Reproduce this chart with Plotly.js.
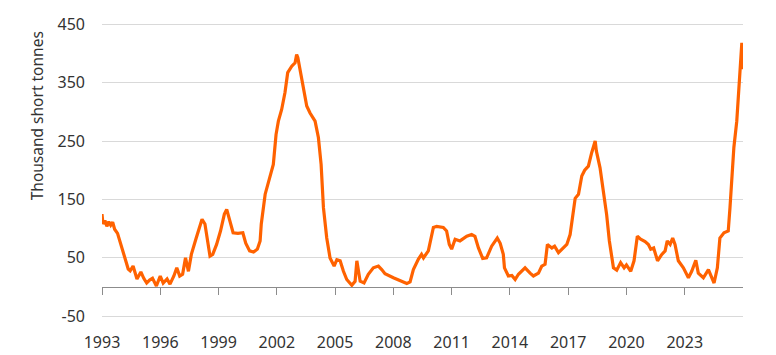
<!DOCTYPE html>
<html>
<head>
<meta charset="utf-8">
<script src="https://cdn.plot.ly/plotly-3.0.1.min.js"></script>
<style>html,body{margin:0;padding:0;background:#fff;}#chart{width:776px;height:355px;}</style>
</head>
<body>
<div id="chart"></div>
<script>
// Decimal year
const years = [
1993.00,1993.05,1993.15,1993.25,1993.35,1993.45,1993.55,1993.65,1993.80,1994.00,
1994.15,1994.35,1994.45,1994.60,1994.80,1995.00,1995.15,1995.30,1995.45,1995.60,
1995.80,1996.00,1996.15,1996.35,1996.50,1996.70,1996.85,1997.00,1997.15,1997.30,
1997.45,1997.60,1997.85,1998.15,1998.30,1998.45,1998.56,1998.70,1998.90,1999.10,
1999.30,1999.42,1999.60,1999.75,2000.00,2000.25,2000.40,2000.60,2000.80,2001.00,
2001.14,2001.20,2001.40,2001.65,2001.82,2001.96,2002.08,2002.25,2002.42,2002.56,
2002.77,2002.94,2003.02,2003.08,2003.20,2003.37,2003.54,2003.71,2003.97,2004.14,
2004.28,2004.40,2004.57,2004.74,2004.95,2005.09,2005.26,2005.43,2005.60,2005.86,
2006.03,2006.12,2006.18,2006.29,2006.49,2006.71,2006.97,2007.23,2007.40,2007.57,
2008.00,2008.43,2008.69,2008.86,2009.03,2009.29,2009.45,2009.55,2009.80,2010.06,
2010.23,2010.57,2010.74,2010.88,2011.00,2011.18,2011.43,2011.78,2012.03,2012.20,
2012.38,2012.60,2012.80,2013.06,2013.35,2013.50,2013.66,2013.72,2013.92,2014.10,
2014.27,2014.44,2014.78,2015.04,2015.21,2015.47,2015.64,2015.81,2015.93,2016.16,
2016.30,2016.50,2016.67,2016.93,2017.10,2017.27,2017.36,2017.53,2017.70,2017.85,
2018.04,2018.21,2018.39,2018.45,2018.64,2018.81,2018.98,2019.12,2019.33,2019.50,
2019.70,2019.88,2020.00,2020.22,2020.39,2020.56,2020.73,2020.96,2021.13,2021.25,
2021.40,2021.60,2021.82,2021.99,2022.10,2022.25,2022.38,2022.50,2022.67,2022.93,
2023.19,2023.36,2023.57,2023.70,2023.96,2024.22,2024.39,2024.51,2024.68,2024.81,
2025.02,2025.24,2025.33,2025.42,2025.53,2025.68,2025.76,2025.85,2025.90,2025.94,
2025.96
];
// Thousand short tonnes
const values = [
125,108,114,104,112,106,111,99,92,70,
50,31,28,36,14,26,15,7,12,15,
2,19,7,14,5,19,33,19,22,50,
27,56,84,116,108,75,53,56,73,96,
125,133,113,93,92,93,75,62,60,65,
79,108,159,187,210,261,284,304,333,367,
378,384,398,393,370,341,310,298,284,256,
210,136,84,50,36,47,45,27,13,3,
10,45,33,10,7,22,33,36,30,23,
16,10,6,9,30,48,56,50,62,102,
104,102,96,73,65,82,79,87,90,87,
67,49,50,70,84,75,56,33,19,20,
13,22,33,24,19,24,36,39,73,67,
70,59,65,73,90,136,152,159,190,200,
207,230,250,233,204,164,124,79,33,29,
42,33,38,27,45,87,82,78,73,65,
67,45,56,62,79,73,84,73,45,33,
16,27,46,24,16,30,16,7,33,84,
93,96,136,193,239,284,324,358,387,418,
373
];
const xTickVals = [1993,1996,1999,2002,2005,2008,2011,2014,2017,2020,2023];
const xTickText = ['1993','1996','1999','2002','2005','2008','2011','2014','2017','2020','2023'];
const yTickVals = [-50,50,150,250,350,450];
const yTickText = ['-50','50','150','250','350','450'];
const yTitle = 'Thousand short tonnes';

const font = 'Noto Sans, Open Sans, sans-serif';
const textColor = '#333333';
const gridColor = '#d9d9d9';
const xRange = [1993, 2026];
const yRange = [-70, 452];
const zeroPos = (0 - yRange[0]) / (yRange[1] - yRange[0]);

const trace = {
  x: years, y: values, type: 'scatter', mode: 'lines',
  line: {color: '#FF6200', width: 3.2},
  hoverinfo: 'x+y', showlegend: false
};

const layout = {
  width: 776, height: 355,
  margin: {l: 102, r: 33, t: 23, b: 27},
  paper_bgcolor: '#ffffff', plot_bgcolor: '#ffffff',
  font: {family: font, color: textColor, size: 16},
  showlegend: false,
  xaxis: {
    range: xRange,
    anchor: 'free', position: zeroPos,
    showgrid: false, zeroline: false,
    showline: true, linecolor: '#8c8c8c', linewidth: 1,
    ticks: 'outside', ticklen: 7, tickcolor: '#8c8c8c', tickwidth: 1,
    tickvals: xTickVals, ticktext: xTickText,
    tickfont: {family: font, size: 16, color: textColor},
    ticklabelstandoff: 34
  },
  yaxis: {
    range: yRange,
    tickvals: yTickVals, ticktext: yTickText,
    showgrid: true, gridcolor: gridColor, gridwidth: 1,
    zeroline: false, showline: false, ticks: '',
    tickfont: {family: font, size: 16, color: textColor},
    ticklabelstandoff: 16
  },
  annotations: [{
    text: yTitle, textangle: -90, showarrow: false,
    xref: 'paper', yref: 'paper', x: -0.1, y: 0.697,
    xanchor: 'center', yanchor: 'middle',
    font: {family: font, size: 15.5, color: textColor}
  }]
};

Plotly.newPlot('chart', [trace], layout, {displayModeBar: false, staticPlot: true});
</script>
</body>
</html>
